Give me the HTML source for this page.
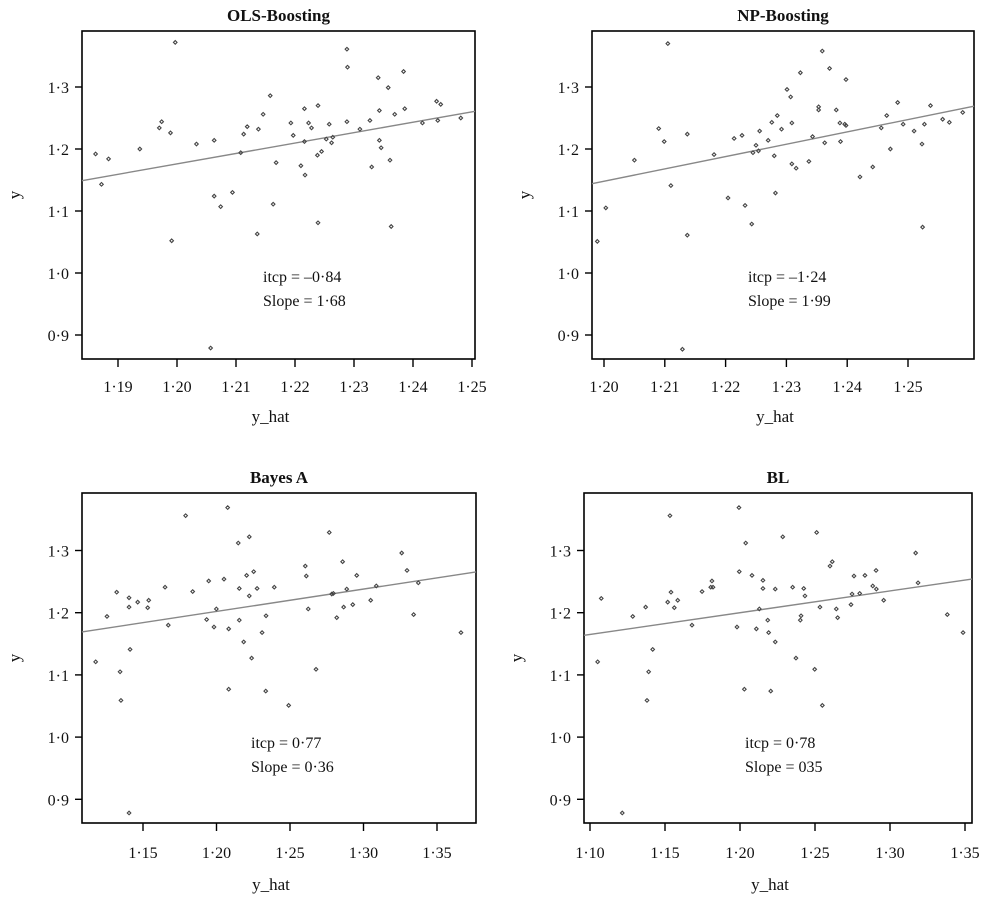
<!DOCTYPE html>
<html><head><meta charset="utf-8">
<style>
html,body{margin:0;padding:0;background:#fff;}
svg text{font-family:"Liberation Serif",serif;fill:#111;}
</style></head>
<body>
<svg id="fig" width="986" height="894" viewBox="0 0 986 894" xmlns="http://www.w3.org/2000/svg"></svg>
<script>
// ---- Panel 1: OLS-Boosting ----
const olsX=[1.1862,1.1872,1.1884,1.1937,1.1970,1.1974,1.1989,1.1997,1.1991,1.2033,1.2063,1.2063,1.2074,1.2057,1.2094,1.2108,1.2113,1.2119,1.2136,1.2138,1.2146,1.2158,1.2163,1.2168,1.2193,1.2197,1.2210,1.2216,1.2216,1.2217,1.2223,1.2228,1.2238,1.2239,1.2239,1.2245,1.2253,1.2258,1.2262,1.2264,1.2288,1.2289,1.2288,1.2310,1.2327,1.2330,1.2341,1.2343,1.2343,1.2346,1.2358,1.2361,1.2363,1.2369,1.2384,1.2386,1.2416,1.2440,1.2447,1.2442,1.2481];
const olsY=[1.192,1.143,1.184,1.200,1.234,1.244,1.226,1.372,1.052,1.208,1.214,1.124,1.107,0.879,1.130,1.194,1.224,1.236,1.063,1.232,1.256,1.286,1.111,1.178,1.242,1.222,1.173,1.265,1.212,1.158,1.242,1.234,1.190,1.270,1.081,1.196,1.216,1.240,1.210,1.219,1.361,1.332,1.244,1.232,1.246,1.171,1.315,1.262,1.214,1.202,1.299,1.182,1.075,1.256,1.325,1.265,1.242,1.277,1.272,1.246,1.250];
const olsXTicks=[1.19,1.20,1.21,1.22,1.23,1.24,1.25];
const olsFit=[-0.84,1.68];
// ---- Panel 2: NP-Boosting ----
const npX=[1.2105,1.1989,1.2003,1.2050,1.2090,1.2099,1.2110,1.2137,1.2137,1.2129,1.2181,1.2204,1.2214,1.2227,1.2232,1.2243,1.2245,1.2250,1.2254,1.2256,1.2270,1.2276,1.2280,1.2282,1.2285,1.2292,1.2301,1.2307,1.2309,1.2309,1.2316,1.2323,1.2337,1.2343,1.2353,1.2353,1.2359,1.2363,1.2371,1.2382,1.2388,1.2389,1.2396,1.2398,1.2398,1.2421,1.2442,1.2456,1.2465,1.2471,1.2483,1.2492,1.2510,1.2523,1.2524,1.2527,1.2537,1.2557,1.2568,1.2590];
const npY=[1.370,1.051,1.105,1.182,1.233,1.212,1.141,1.224,1.061,0.877,1.191,1.121,1.217,1.222,1.109,1.079,1.194,1.206,1.197,1.229,1.214,1.243,1.189,1.129,1.254,1.232,1.296,1.284,1.242,1.176,1.169,1.323,1.180,1.220,1.268,1.263,1.358,1.210,1.330,1.263,1.242,1.212,1.240,1.312,1.238,1.155,1.171,1.234,1.254,1.200,1.275,1.240,1.229,1.208,1.074,1.240,1.270,1.248,1.243,1.259];
const npXTicks=[1.20,1.21,1.22,1.23,1.24,1.25];
const npFit=[-1.24,1.99];
// ---- Panel 3: Bayes A ----
const baX=[1.1178,1.1255,1.1321,1.1344,1.1350,1.1405,1.1405,1.1412,1.1405,1.1464,1.1532,1.1539,1.1650,1.1672,1.1790,1.1838,1.1933,1.1947,1.1983,1.1999,1.2051,1.2076,1.2083,1.2083,1.2148,1.2155,1.2155,1.2185,1.2205,1.2223,1.2223,1.2239,1.2253,1.2276,1.2310,1.2337,1.2335,1.2393,1.2491,1.2604,1.2611,1.2624,1.2677,1.2767,1.2784,1.2795,1.2818,1.2858,1.2865,1.2886,1.2927,1.2954,1.3049,1.3087,1.3260,1.3296,1.3341,1.3373,1.3663];
const baY=[1.121,1.194,1.233,1.105,1.059,1.224,1.209,1.141,0.878,1.217,1.208,1.220,1.241,1.180,1.356,1.234,1.189,1.251,1.177,1.206,1.254,1.369,1.174,1.077,1.312,1.239,1.188,1.153,1.260,1.322,1.227,1.127,1.266,1.239,1.168,1.195,1.074,1.241,1.051,1.275,1.259,1.206,1.109,1.329,1.230,1.231,1.192,1.282,1.209,1.238,1.213,1.260,1.220,1.243,1.296,1.268,1.197,1.248,1.168];
const baXTicks=[1.15,1.20,1.25,1.30,1.35];
const baFit=[0.77,0.36];
// ---- Panel 4: BL ----
const blX=[1.1051,1.1075,1.1215,1.1285,1.1371,1.1380,1.1391,1.1418,1.1518,1.1533,1.1540,1.1562,1.1585,1.1680,1.1747,1.1805,1.1813,1.1820,1.1980,1.1993,1.1995,1.2029,1.2038,1.2080,1.2109,1.2129,1.2153,1.2153,1.2185,1.2191,1.2205,1.2235,1.2235,1.2285,1.2351,1.2373,1.2402,1.2407,1.2425,1.2433,1.2498,1.2511,1.2533,1.2549,1.2600,1.2615,1.2642,1.2651,1.2740,1.2747,1.2760,1.2798,1.2833,1.2885,1.2907,1.2909,1.2958,1.3171,1.3187,1.3382,1.3487];
const blY=[1.121,1.223,0.878,1.194,1.209,1.059,1.105,1.141,1.217,1.356,1.233,1.208,1.220,1.180,1.234,1.241,1.251,1.241,1.177,1.369,1.266,1.077,1.312,1.260,1.174,1.206,1.252,1.239,1.188,1.168,1.074,1.238,1.153,1.322,1.241,1.127,1.188,1.195,1.239,1.227,1.109,1.329,1.209,1.051,1.275,1.282,1.206,1.192,1.213,1.230,1.259,1.231,1.260,1.243,1.268,1.238,1.220,1.296,1.248,1.197,1.168];
const blXTicks=[1.10,1.15,1.20,1.25,1.30,1.35];
const blFit=[0.78,0.35];
const yTicks=[0.9,1.0,1.1,1.2,1.3];

const NS="http://www.w3.org/2000/svg";
const svg=document.getElementById('fig');
function mk(tag,attrs,parent){const e=document.createElementNS(NS,tag);for(const k in attrs)e.setAttribute(k,attrs[k]);(parent||svg).appendChild(e);return e;}
function fmt(v,d){return v.toFixed(d).replace('.','\u00b7');}

function panel(p){
  const g=mk('g',{});
  
  
  const sx=v=>p.x0+(v-p.xv0)*p.xs;
  const sy=v=>p.y0-(v-1.3)*p.ys;
  const box=mk('rect',{x:p.L,y:p.T,width:p.R-p.L,height:p.B-p.T,fill:'none',stroke:'#000','stroke-width':1.6},g);
  
  
  const t=mk('text',{x:(p.L+p.R)/2,y:p.T-10,'text-anchor':'middle','font-size':17,'font-weight':'bold'},g);
  t.textContent=p.title;
  
  
  p.xticks.forEach(v=>{
    const x=sx(v);
    const tk=mk('line',{x1:x,x2:x,y1:p.B,y2:p.B+8,stroke:'#000','stroke-width':1.4},g);
    
    
    const lb=mk('text',{x:x,y:p.B+p.tl,'text-anchor':'middle','font-size':16},g);
    lb.textContent=fmt(v,2);
    
    
  });
  yTicks.forEach(v=>{
    const y=sy(v);
    const tk=mk('line',{x1:p.L-7,x2:p.L,y1:y,y2:y,stroke:'#000','stroke-width':1.4},g);
    
    
    const lb=mk('text',{x:p.L-13,y:y+6,'text-anchor':'end','font-size':16},g);
    lb.textContent=fmt(v,1);
    
    
  });
  const xl=mk('text',{x:(p.L+p.R)/2-8,y:p.B+p.xt,'text-anchor':'middle','font-size':17},g);
  xl.textContent='y_hat';
  
  
  const yc=(p.T+p.B)/2;
  const yl=mk('text',{x:p.L-62,y:yc,'text-anchor':'middle','font-size':17,transform:'rotate(-90 '+(p.L-62)+' '+yc+')'},g);
  yl.textContent='y';
  
  
  const xa=p.xv0+(p.L-p.x0)/p.xs, xb=p.xv0+(p.R-p.x0)/p.xs;
  const ln=mk('line',{x1:p.L,y1:sy(p.fit[0]+p.fit[1]*xa),x2:p.R,y2:sy(p.fit[0]+p.fit[1]*xb),stroke:'#888','stroke-width':1.4},g);
  
  
  p.xs_.forEach((xv,i)=>{
    const cx=sx(xv), cy=sy(p.ys_[i]);
    const d=mk('path',{d:`M${cx} ${cy-1.8}L${cx+1.8} ${cy}L${cx} ${cy+1.8}L${cx-1.8} ${cy}Z`,fill:'none',stroke:'#444','stroke-width':1.1},g);
    
    
  });
  const a1=mk('text',{x:p.ax,y:p.ay,'font-size':16},g);
  a1.textContent=p.ann1;
  
  
  const a2=mk('text',{x:p.ax,y:p.ay+24,'font-size':16},g);
  a2.textContent=p.ann2;
  
  
}
panel({key:'ols',title:'OLS-Boosting',L:82,R:475,T:31,B:359,tl:33,xt:63,x0:118,xv0:1.19,xs:5900,y0:87,ys:620,xticks:olsXTicks,fit:olsFit,xs_:olsX,ys_:olsY,ax:263,ay:282,ann1:'itcp = \u20130\u00b784',ann2:'Slope = 1\u00b768'});
panel({key:'np',title:'NP-Boosting',L:592,R:974,T:31,B:359,tl:33,xt:63,x0:604,xv0:1.20,xs:6080,y0:87,ys:620,xticks:npXTicks,fit:npFit,xs_:npX,ys_:npY,ax:748,ay:282,ann1:'itcp = \u20131\u00b724',ann2:'Slope = 1\u00b799'});
panel({key:'bayesa',title:'Bayes A',L:82,R:476,T:493,B:823,tl:35,xt:67,x0:143,xv0:1.15,xs:1470,y0:550.5,ys:622,xticks:baXTicks,fit:baFit,xs_:baX,ys_:baY,ax:251,ay:748,ann1:'itcp = 0\u00b777',ann2:'Slope = 0\u00b736'});
panel({key:'bl',title:'BL',L:584,R:972,T:493,B:823,tl:35,xt:67,x0:590,xv0:1.10,xs:1500,y0:550.5,ys:622,xticks:blXTicks,fit:blFit,xs_:blX,ys_:blY,ax:745,ay:748,ann1:'itcp = 0\u00b778',ann2:'Slope = 035'});
</script>
</body></html>
